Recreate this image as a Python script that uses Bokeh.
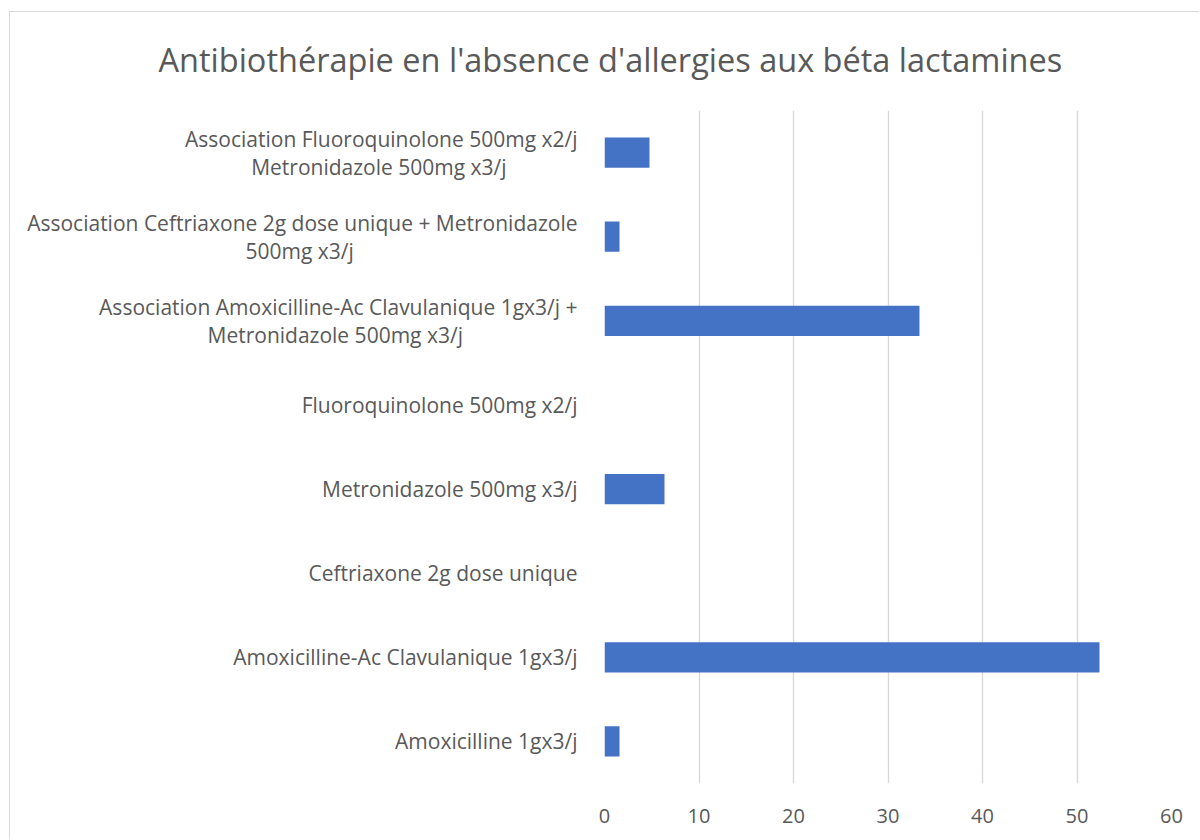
from bokeh.plotting import figure
from bokeh.models import FactorRange, Range1d, FixedTicker, Title
from bokeh.embed import file_html
from bokeh.resources import INLINE

NB = "\u00a0"
categories = [
    "Amoxicilline 1gx3/j",
    "Amoxicilline-Ac Clavulanique 1gx3/j",
    "Ceftriaxone 2g dose unique",
    "Metronidazole 500mg x3/j",
    "Fluoroquinolone 500mg x2/j",
    "Association Amoxicilline-Ac Clavulanique 1gx3/j +\nMetronidazole 500mg x3/j" + NB * 21,
    "Association Ceftriaxone 2g dose unique + Metronidazole\n500mg x3/j" + NB * 41,
    "Association Fluoroquinolone 500mg x2/j\nMetronidazole 500mg x3/j" + NB * 13,
]
values = [1.59, 52.38, 0, 6.35, 0, 33.33, 1.59, 4.76]
x_ticks = [0, 10, 20, 30, 40, 50, 60]
title_text = "Antibiothérapie en l'absence d'allergies aux béta lactamines"

FONT = "Open Sans"
GREY = "#595959"

p = figure(
    width=1199, height=839,
    y_range=FactorRange(factors=categories, range_padding=0),
    x_range=Range1d(0, 60),
    output_backend="svg", toolbar_location=None,
    min_border_left=604, min_border_right=28,
    min_border_top=110, min_border_bottom=56,
)
p.border_fill_color = None
p.background_fill_color = "white"
p.styles = {
    "background": "linear-gradient(#d9d9d9,#d9d9d9) 9px 11px / 1px 100% no-repeat, "
                  "linear-gradient(#d9d9d9,#d9d9d9) 9px 11px / 100% 1px no-repeat, white"
}

p.hbar(y=categories, right=values, height=0.36, fill_color="#4472C4",
       line_color=None)

t = Title(text=title_text, align="left", offset=-446,
          text_font=FONT, text_font_size="32.5px", text_font_style="normal",
          text_color=GREY, standoff=58)
p.add_layout(t, "above")

p.outline_line_color = None
p.xgrid.ticker = FixedTicker(ticks=x_ticks)
p.xgrid.grid_line_color = "#d9d9d9"
p.xgrid.grid_line_width = 1.4
p.ygrid.grid_line_color = None

p.xaxis.ticker = FixedTicker(ticks=x_ticks)
p.xaxis.axis_line_color = None
p.xaxis.major_tick_line_color = None
p.xaxis.minor_tick_line_color = None
p.xaxis.major_label_text_font = FONT
p.xaxis.major_label_text_font_size = "20px"
p.xaxis.major_label_text_color = GREY
p.xaxis.major_label_standoff = 19

p.yaxis.axis_line_color = None
p.yaxis.major_tick_line_color = None
p.yaxis.minor_tick_line_color = None
p.yaxis.major_label_text_font = FONT
p.yaxis.major_label_text_font_size = "21px"
p.yaxis.major_label_text_color = GREY
p.yaxis.major_label_text_line_height = 1.0
p.yaxis.major_label_standoff = 21

open("out.html", "w").write(file_html(p, INLINE))
